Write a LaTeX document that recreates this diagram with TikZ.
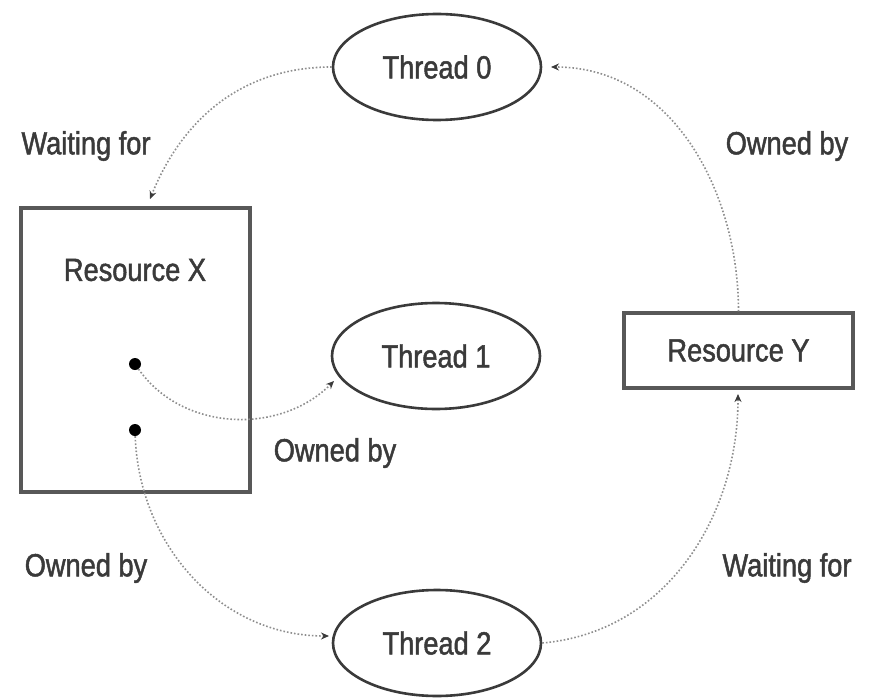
\documentclass[tikz,border=0pt]{standalone}
\usepackage{fontspec}
\setmainfont{Liberation Sans}[FakeStretch=0.85,FakeBold=1.5]
\usetikzlibrary{shapes.geometric,arrows.meta}
\definecolor{inkc}{HTML}{3A3A3A}
\definecolor{linec}{HTML}{8E8E8E}
\begin{document}
\begin{tikzpicture}[x=1pt,y=-1pt,
  thread/.style={ellipse,draw=inkc,line width=2.6pt,minimum width=208pt,minimum height=106pt,inner sep=0pt,font=\fontsize{32}{34}\selectfont,text=inkc},
  resbox/.style={rectangle,draw=inkc!85,line width=3.2pt,inner sep=0pt,font=\fontsize{32}{34}\selectfont,text=inkc},
  lbl/.style={font=\fontsize{32}{34}\selectfont,text=inkc,inner sep=0pt},
  dotc/.style={circle,fill=black,minimum size=12pt,inner sep=0pt},
  conn/.style={draw=linec,line width=1.6pt,dotted,-{Stealth[length=8pt,width=7pt,inkc]}}]
\useasboundingbox (0,0) rectangle (875,698);
\fill[white] (0,0) rectangle (875,698);
% nodes
\node[thread] (t0) at (437,67) {Thread 0};
\node[thread] (t1) at (436,356) {Thread 1};
\node[thread] (t2) at (437,643) {Thread 2};
\node[resbox,minimum width=229pt,minimum height=284pt] (rx) at (135.5,350) {};
\node[lbl] (rxl) at (135,270) {Resource X};
\node[resbox,minimum width=229pt,minimum height=75pt] (ry) at (738.5,350.5) {Resource Y};
\node[dotc] (d1) at (135,364) {};
\node[dotc] (d2) at (135,430) {};
% labels
\node[lbl] (l1) at (86,146) {Waiting for};
\node[lbl] (l2) at (787,146) {Owned by};
\node[lbl] (l3) at (335,453) {Owned by};
\node[lbl] (l4) at (86,568) {Owned by};
\node[lbl] (l5) at (787,568) {Waiting for};
% connector ends
\coordinate (a1) at (150,199);
\coordinate (a2) at (551,67);
\coordinate (a3) at (334,381);
\coordinate (a4) at (329,636);
\coordinate (a5) at (738,394);
% connectors
\draw[conn] (t0.west) to[out=180,in=68] (a1);
\draw[conn] (ry.north) to[out=90,in=0] (a2);
\draw[conn] (d1) to[out=-55,in=225] (a3);
\draw[conn] (d2) to[out=-88,in=180] (a4);
\draw[conn] (t2.east) to[out=5,in=-90] (a5);
\end{tikzpicture}
\end{document}
